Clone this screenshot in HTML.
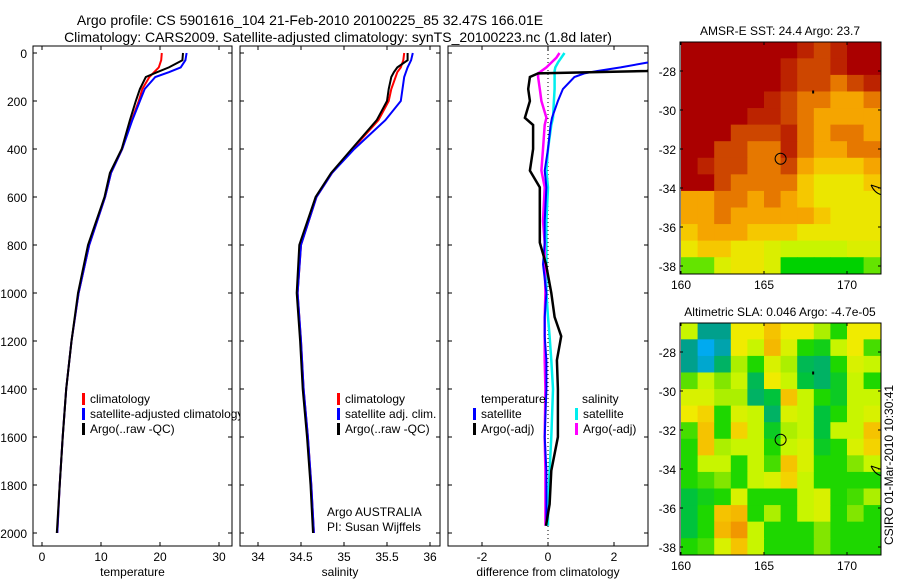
<!DOCTYPE html>
<html><head><meta charset="utf-8"><style>
html,body{margin:0;padding:0;background:#fff;}
svg{display:block;font-family:"Liberation Sans",Arial,sans-serif;}
</style></head><body>
<svg id="fig" width="900" height="580" viewBox="0 0 900 580" xmlns="http://www.w3.org/2000/svg">
<text x="310" y="25" font-size="14" text-anchor="middle">Argo profile: CS 5901616_104 21-Feb-2010 20100225_85 32.47S 166.01E</text>
<text x="338" y="42" font-size="14" text-anchor="middle">Climatology: CARS2009. Satellite-adjusted climatology: synTS_20100223.nc (1.8d later)</text>
<g id="p1"></g>
<g id="p2"></g>
<g id="p3"></g>
<g id="m1"></g>
<g id="m2"></g>
<text transform="translate(893,545) rotate(-90)" font-size="12">CSIRO 01-Mar-2010 10:30:41</text>
</svg>
<script>
// ---- profile data ----
const tDepth = [0,30,60,80,100,150,200,280,400,500,600,800,1000,1200,1400,1600,1800,2000];
const tArgo  = [23.9,23.8,21.5,19.5,17.6,16.6,15.9,14.9,13.5,11.5,10.6,7.8,6.1,5.0,4.1,3.5,3.0,2.5];
const tClim  = [20.3,20.2,19.8,19.0,18.2,17.0,16.4,15.2,13.6,11.7,10.7,8.0,6.2,5.0,4.1,3.5,3.0,2.6];
const tSat   = [24.5,24.3,23.5,21.5,19.2,17.4,16.6,15.3,13.6,11.7,10.7,8.0,6.2,5.0,4.1,3.5,3.0,2.6];
const sArgo  = [35.74,35.74,35.62,35.58,35.55,35.52,35.5,35.38,35.09,34.85,34.67,34.48,34.45,34.49,34.52,34.57,34.61,34.64];
const sClim  = [35.70,35.69,35.66,35.62,35.6,35.55,35.52,35.4,35.1,34.86,34.68,34.5,34.46,34.5,34.53,34.58,34.62,34.65];
const sSat   = [35.8,35.78,35.74,35.72,35.7,35.68,35.66,35.48,35.12,34.86,34.68,34.5,34.46,34.5,34.53,34.58,34.62,34.65];
const dDepth = [0,20,40,60,75,85,100,150,200,270,300,400,490,560,700,790,880,1000,1100,1180,1280,1400,1600,1740,1880,1970];
const dTArgo = [4,4,3.8,3.3,3.0,-0.3,-0.55,-0.6,-0.55,-0.7,-0.45,-0.45,-0.55,-0.25,-0.25,-0.25,-0.06,0.1,0.2,0.4,0.27,0.3,0.3,0.1,0.05,-0.06];
const dTSat  = [4,4,3.0,2.2,1.5,1.1,0.8,0.45,0.3,0.12,0.08,0.0,-0.1,-0.05,-0.1,-0.1,-0.15,-0.05,-0.1,-0.1,-0.05,-0.05,-0.1,-0.05,-0.05,-0.05];
const dSSat  = [0.5,0.4,0.3,0.22,0.2,0.2,0.2,0.2,0.18,0.15,0.1,0.0,-0.05,0.0,-0.05,-0.05,-0.05,-0.05,0.0,0.05,0.1,0.15,0.1,0.05,0.0,0.0];
const dSArgo = [0.35,0.25,0.1,-0.05,-0.2,-0.3,-0.3,-0.25,-0.2,-0.05,-0.1,-0.15,-0.2,-0.1,-0.15,-0.1,-0.1,-0.08,-0.1,-0.1,-0.1,-0.08,-0.1,-0.08,-0.08,-0.08];
const depthTicks = [0,200,400,600,800,1000,1200,1400,1600,1800,2000];
const tTicks = [0,10,20,30];
const sTicks = [34,34.5,35,35.5,36];
const dTicks = [-2,0,2];
// ---- map data ----
const mapLons = [160,161,162,163,164,165,166,167,168,169,170,171];
const mapLats = [-26.5,-27.35,-28.2,-29.05,-29.9,-30.75,-31.6,-32.45,-33.3,-34.15,-35.0,-35.85,-36.7,-37.55];
const sst = [
[26,26,26,26,26,26,26,25.5,25,25.5,26,26],
[26,26,26,26,26,26,25.5,25,25,25.5,26,26],
[26,26,26,26,26,26,25.5,25,25,24.5,25,25.5],
[26,26,26,26,26,25.5,25,24.5,24.5,24,24,24.5],
[26,26,26,26,25.5,25.5,25,24.5,24,24,24,24],
[26,26,26,25,25,25,25.5,24.5,24,24.5,24.5,24],
[26,26,25,25,24.5,24.5,25.5,24.5,24,24,24.5,24.5],
[26,25.5,25,25,24.5,24.5,25,24,23.5,23.5,23.5,24],
[26,26,25,24.5,24.5,24.5,24.5,23.5,23,23,23,23.5],
[24,24,24.5,24.5,24,24.5,24,23.5,23,23,23,23],
[24,24,24.5,24,24,24,24,24,23.5,23,23,23],
[23.5,24,24,24,23.5,23.5,23.5,23,23,23,23,23],
[23,23.5,23.5,23,23,22.5,22,22,22,22,22.5,22.5],
[21.5,21.5,22.5,23,23,22.5,21,21,21,21,21,21.5]];
const sla = [
[0.1,-0.15,-0.15,0.15,0.15,0.2,0.15,0.15,0.08,0,0.15,0.15],
[-0.15,-0.3,-0.2,0.15,0.1,0.22,0.12,0,-0.02,0.1,0.15,0.02],
[-0.15,-0.25,-0.1,0.08,0,0.12,0.08,-0.08,-0.1,0,0.12,0.1],
[0.03,0.1,0.05,0.1,-0.08,0.15,0.1,-0.05,-0.1,-0.03,0.1,0],
[0.12,0.12,0.08,0.08,-0.1,-0.05,0.2,0.1,0,-0.03,0.1,0.1],
[0.15,0.18,0,0.12,0.1,-0.1,0.12,0.1,-0.05,0,0.1,0.12],
[0.02,0.2,0,0.18,0.1,-0.03,0.08,0.1,-0.05,0.1,0.1,0.2],
[0,0.2,0.08,0.1,0.1,0,0.1,0.12,-0.03,0,0.12,0.18],
[0,0.1,0.1,0,0.1,0.02,0.2,0.12,0,0,0.05,0.1],
[0,0.02,0.05,0,0.1,0.12,0.18,0.1,0,0,0,0],
[-0.05,-0.02,0,0.12,0,0,0,0.1,0.12,0,0.02,0.08],
[-0.05,0,0.2,0.22,0,0.08,0,0.1,0.12,0,0.05,0],
[-0.05,0,0.22,0.28,0.1,0,0,0,0.05,0,0,0],
[0,0.02,0.12,0.2,0.1,0,0,0,0.05,0,0,0]];
const latTicks = [-28,-30,-32,-34,-36,-38];
const lonTicks = [160,165,170];
const floatPos = [166.0,-32.5];

const NS='http://www.w3.org/2000/svg';
function mk(parent,tag,attrs,txt){const e=document.createElementNS(NS,tag);for(const k in attrs)e.setAttribute(k,attrs[k]);if(txt!==undefined)e.textContent=txt;parent.appendChild(e);return e;}
const yD = d => 53 + 0.24*d;

function panel(g,x0,x1,xs,ticks,fmt,label,showY){
  const r=mk(g,'rect',{x:x0,y:46,width:x1-x0,height:500,fill:'#fff',stroke:'#000','stroke-width':1});
  
  
  depthTicks.forEach(d=>{
    mk(g,'line',{x1:x0,x2:x0+4,y1:yD(d),y2:yD(d),stroke:'#000'});
    mk(g,'line',{x1:x1,x2:x1-4,y1:yD(d),y2:yD(d),stroke:'#000'});
    if(showY){const t=mk(g,'text',{x:x0-6,y:yD(d)+5,'font-size':12,'text-anchor':'end'},String(d));
      
      }
  });
  ticks.forEach(v=>{
    const x=xs(v);
    mk(g,'line',{x1:x,x2:x,y1:546,y2:542,stroke:'#000'});
    mk(g,'line',{x1:x,x2:x,y1:46,y2:50,stroke:'#000'});
    const t=mk(g,'text',{x:x,y:561,'font-size':12,'text-anchor':'middle'},fmt(v));
    
    
  });
  const t=mk(g,'text',{x:(x0+x1)/2,y:576,'font-size':12,'text-anchor':'middle'},label);
  
  
}
function line(g,xs,vals,deps,color,w,name,clip){
  const pts=vals.map((v,i)=>xs(v).toFixed(1)+','+yD(deps[i]).toFixed(1)).join(' ');
  const p=mk(g,'polyline',{points:pts,fill:'none',stroke:color,'stroke-width':w});
  if(clip)p.setAttribute('clip-path','url(#'+clip+')');
  
  
}
function legend(g,x,y,color,txt){
  mk(g,'rect',{x:x,y:y-10,width:3,height:12,fill:color});
  const t=mk(g,'text',{x:x+8,y:y,'font-size':12},txt);
  
  
}
const svg=document.getElementById('fig');
const defs=mk(svg,'defs',{});
const cp=mk(defs,'clipPath',{id:'c3'});mk(cp,'rect',{x:448,y:46,width:200,height:500});

// panel 1
const g1=document.getElementById('p1');
const xT=v=>42+5.9*v;
panel(g1,33,232,xT,tTicks,v=>String(v),'temperature',true);
line(g1,xT,tClim,tDepth,'#f00',2,'climatology-temp-line');
line(g1,xT,tSat,tDepth,'#00f',2,'satellite-temp-line');
line(g1,xT,tArgo,tDepth,'#000',2,'argo-temp-line');
legend(g1,82,403,'#f00','climatology');
legend(g1,82,418,'#00f','satellite-adjusted climatology');
legend(g1,82,433,'#000','Argo(..raw -QC)');

// panel 2
const g2=document.getElementById('p2');
const xS=v=>258+86*(v-34);
panel(g2,240,440,xS,sTicks,v=>String(v),'salinity',false);
line(g2,xS,sClim,tDepth,'#f00',2,'climatology-sal-line');
line(g2,xS,sSat,tDepth,'#00f',2,'satellite-sal-line');
line(g2,xS,sArgo,tDepth,'#000',2,'argo-sal-line');
legend(g2,337,403,'#f00','climatology');
legend(g2,337,418,'#00f','satellite adj. clim.');
legend(g2,337,433,'#000','Argo(..raw -QC)');
let t=mk(g2,'text',{x:327,y:516,'font-size':12},'Argo AUSTRALIA');


t=mk(g2,'text',{x:327,y:531,'font-size':12},'PI: Susan Wijffels');



// panel 3
const g3=document.getElementById('p3');
const xDf=v=>548+33*v;
panel(g3,448,648,xDf,dTicks,v=>String(v),'difference from climatology',false);
mk(g3,'line',{x1:548,x2:548,y1:46,y2:546,stroke:'#000','stroke-dasharray':'1,3'});
line(g3,xDf,dSSat,dDepth,'#0ee',2.5,'salinity-satellite-diff-line','c3');
line(g3,xDf,dSArgo,dDepth,'#f0f',2.5,'salinity-argo-diff-line','c3');
line(g3,xDf,dTSat,dDepth,'#00f',2,'temperature-satellite-diff-line','c3');
line(g3,xDf,dTArgo,dDepth,'#000',2.5,'temperature-argo-diff-line','c3');
t=mk(g3,'text',{x:481,y:403,'font-size':12},'temperature');


t=mk(g3,'text',{x:582,y:403,'font-size':12},'salinity');


legend(g3,473,418,'#00f','satellite');
legend(g3,473,433,'#000','Argo(-adj)');
legend(g3,575,418,'#0ee','satellite');
legend(g3,575,433,'#f0f','Argo(-adj)');

// maps
function interp(stops,v){
  let c=stops[stops.length-1][1];
  if(v<=stops[0][0])c=stops[0][1];
  else for(let i=1;i<stops.length;i++){if(v<=stops[i][0]){const a=stops[i-1],b=stops[i],f=(v-a[0])/(b[0]-a[0]);
    c=a[1].map((q,k)=>Math.round(q+(b[1][k]-q)*f));break;}}
  return 'rgb('+c.join(',')+')';
}
const sstStops=[[21,[0,210,0]],[22,[200,245,0]],[23,[235,230,0]],[23.5,[245,200,0]],[24,[245,165,0]],[24.5,[230,120,0]],[25,[205,70,0]],[26,[170,0,0]]];
const slaStops=[[-0.3,[0,170,240]],[-0.15,[0,160,140]],[-0.05,[0,195,60]],[0,[30,215,0]],[0.05,[130,230,0]],[0.1,[200,245,0]],[0.15,[240,235,0]],[0.2,[245,195,0]],[0.3,[240,140,0]]];
function drawMap(g,top,title,grid,stops,id){
  const x0=680,x1=881,y1=top+232;
  const lx=v=>681+16.6*(v-160);
  const ly=v=>top+29+19.5*(-28-v);
  const c=mk(defs,'clipPath',{id:id});mk(c,'rect',{x:x0,y:top,width:x1-x0,height:y1-top});
  const cg=mk(g,'g',{'clip-path':'url(#'+id+')'});
  grid.forEach((row,i)=>row.forEach((v,j)=>{
    const r=mk(cg,'rect',{x:lx(mapLons[j]),y:ly(mapLats[i]),width:17.1,height:17.2,fill:interp(stops,v)});
    
    
  }));
  mk(g,'rect',{x:x0,y:top,width:x1-x0,height:y1-top,fill:'none',stroke:'#000'});
  latTicks.forEach(v=>{
    mk(g,'line',{x1:x0,x2:x0+3,y1:ly(v),y2:ly(v),stroke:'#000'});
    mk(g,'line',{x1:x1,x2:x1-3,y1:ly(v),y2:ly(v),stroke:'#000'});
    const tt=mk(g,'text',{x:676,y:ly(v)+5,'font-size':12,'text-anchor':'end'},String(v));
    
    
  });
  lonTicks.forEach(v=>{
    mk(g,'line',{x1:lx(v),x2:lx(v),y1:y1,y2:y1-3,stroke:'#000'});
    mk(g,'line',{x1:lx(v),x2:lx(v),y1:top,y2:top+3,stroke:'#000'});
    const tt=mk(g,'text',{x:lx(v),y:y1+15,'font-size':12,'text-anchor':'middle'},String(v));
    
    
  });
  const tt=mk(g,'text',{x:780,y:top-7,'font-size':12,'text-anchor':'middle'},title);
  
  
  const m=mk(g,'circle',{cx:lx(floatPos[0]),cy:ly(floatPos[1]),r:5.5,fill:'none',stroke:'#000'});
  
  
  mk(g,'rect',{x:lx(167.9),y:ly(-29),width:2,height:3,fill:'#000'});
  mk(cg,'path',{d:'M'+(x1-10)+','+(ly(-34)-3)+' Q'+(x1-6)+','+(ly(-34)+6)+' '+(x1+2)+','+(ly(-34)+7)+' M'+(x1-10)+','+(ly(-34)-3)+' L'+(x1+2)+','+(ly(-34)+1),fill:'none',stroke:'#000'});
}
drawMap(document.getElementById('m1'),42,'AMSR-E SST: 24.4  Argo: 23.7',sst,sstStops,'cm1');
drawMap(document.getElementById('m2'),323,'Altimetric SLA: 0.046  Argo: -4.7e-05',sla,slaStops,'cm2');
</script>
</body></html>
